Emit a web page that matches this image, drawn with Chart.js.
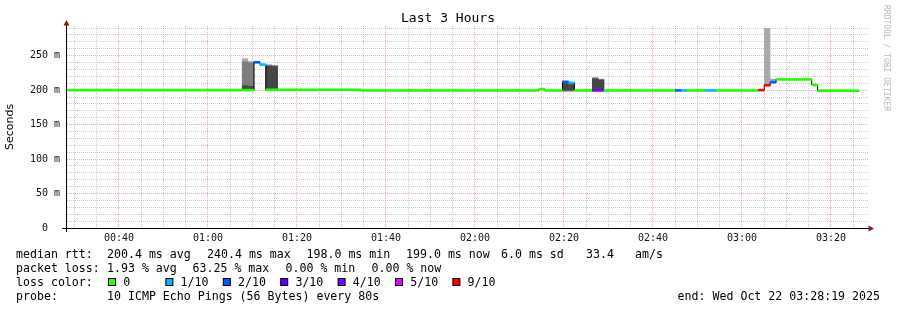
<!DOCTYPE html>
<html><head><meta charset="utf-8">
<script src="https://cdn.jsdelivr.net/npm/chart.js@4/dist/chart.umd.min.js"></script>
<style>html,body{margin:0;padding:0;background:#fff;overflow:hidden}#wrap{width:897px;height:310px;position:relative}</style>
</head><body><div id="wrap"><canvas id="c" width="897" height="310"></canvas></div>
<script>
// ---------------- data ----------------
const stepSeconds = 80;
const firstStepStart = 1660;          // 00:27:40 (seconds after midnight)
const viewStart = 1699;               // 00:28:19
const viewEnd = 12499;                // 03:28:19
const xTickSeconds = [2400, 3600, 4800, 6000, 7200, 8400, 9600, 10800, 12000];
const xTickLabels  = ['00:40','01:00','01:20','01:40','02:00','02:20','02:40','03:00','03:20'];
const yTickValues  = [0, 50, 100, 150, 200, 250];
const yTickLabels  = ['0  ', '50 m', '100 m', '150 m', '200 m', '250 m'];
const yMax = 293;

// median RTT (ms) per 80 s step
const medianRtt = [
  200,200,200,200,200,200,200,200,200,200,
  200,200,200,200,200,200,200,200,200,200,
  200,200,200,200,200,200,200,200,200,200,
  200,200,240.4,237,200.5,200.5,200.5,200.5,200.5,200.5,
  200.5,200.5,200.5,200.5,200.5,200.5,200.5,200.5,200.5,200.5,
  199.5,199.5,199.5,199.5,199.5,199.5,199.5,199.5,199.5,199.5,
  199.5,199.5,199.5,199.5,199.5,199.5,199.5,199.5,199.5,199.5,
  199.5,199.5,199.5,199.5,199.5,199.5,199.5,199.5,199.5,199.5,
  201.5,199.5,199.5,199.5,212,210.5,199.5,199.5,199.5,199.5,
  199.5,199.5,199.5,199.5,199.5,199.5,199.5,199.5,199.5,199.5,
  199.5,199.5,199.5,199.5,199.5,199.5,199.5,199.5,199.5,199.5,
  199.5,199.5,199.5,199.5,199.5,199.5,199.5,200,207,211.5,
  215.5,215.5,215.5,215.5,215.5,215.5,207.5,199.2,199.2,199.2,
  199.2,199.2,199.2,199.2,null,null
];
// lost pings (out of 10) per step
const lossTenths = [
  0,0,0,0,0,0,0,0,0,0,
  0,0,0,0,0,0,0,0,0,0,
  0,0,0,0,0,0,0,0,0,0,
  0,0,2,1,0,0,0,0,0,0,
  0,0,0,0,0,0,0,0,0,0,
  0,0,0,0,0,0,0,0,0,0,
  0,0,0,0,0,0,0,0,0,0,
  0,0,0,0,0,0,0,0,0,0,
  0,0,0,0,2,1,0,0,0,4,
  4,0,0,0,0,0,0,0,0,0,
  0,0,0,2,1,0,0,0,1,1,
  0,0,0,0,0,0,0,6.3,6.3,2,
  0,0,0,0,0,0,0,0,0,0,
  0,0,0,0,null,null
];
// smoke (spread of individual pings) for the steps where it is visible
const smokeSteps   = [30, 31, 34, 35, 84, 85, 89, 90, 118, 119];
const smokeOuterLo = [199, 199, 199, 199, 197.5, 197.5, 199, 199, 206, 211];
const smokeOuterHi = [246, 242, 237.5, 236.5, 212, 211, 218.5, 216.5, 290, 216.5];
const smokeMidLo   = [199, 199, 199, 199, 198.5, 198.5, 199, 199, null, null];
const smokeMidHi   = [241.5, 240, 236.5, 236, 211.5, 210.5, 218, 216, null, null];
const smokeInnerLo = [199, 199, 199, 199, 199.5, 199.5, 199.5, 199.5, null, null];
const smokeInnerHi = [207, 206, 235, 234.5, 211, 210, 217, 215, null, null];

// loss colour legend
const lossKeys   = [0, 1, 2, 3, 4, 5, 9];
const lossLabels = ['0', '1/10', '2/10', '3/10', '4/10', '5/10', '9/10'];
const lossColors = ['#26ff00', '#00b8ff', '#0059ff', '#5e00ff', '#7e00ff', '#dd00ff', '#ff0000'];

// ---------------- helpers ----------------
const MONO = '"DejaVu Sans Mono", monospace';
const stepCenter = i => firstStepStart + stepSeconds * i + stepSeconds / 2;
const lossColor = l => { for (let k = 0; k < lossKeys.length; k++) if (l <= lossKeys[k]) return lossColors[k]; return lossColors[lossColors.length - 1]; };
const HALF = 1.9; // half thickness of median line, ms

const medianData = [], medianColors = [], stepLine = [];
medianRtt.forEach((v, i) => {
  if (v == null) return;
  medianData.push({x: stepCenter(i), y: [v - HALF, v + HALF]});
  medianColors.push(lossColor(lossTenths[i]));
  stepLine.push({x: stepCenter(i), y: v});
});
function smokeLayer(lo, hi) {
  const d = [];
  smokeSteps.forEach((s, k) => { if (lo[k] != null && hi[k] != null) d.push({x: stepCenter(s), y: [lo[k], hi[k]]}); });
  return d;
}
const barCommon = {type: 'bar', grouped: false, barPercentage: 1.06, categoryPercentage: 1, borderWidth: 0};

const decor = {
  id: 'decor',
  afterDraw(chart) {
    const ctx = chart.ctx, a = chart.chartArea;
    ctx.save();
    // axes
    ctx.strokeStyle = '#000'; ctx.lineWidth = 1;
    ctx.beginPath();
    ctx.moveTo(62, a.bottom + 0.5); ctx.lineTo(a.right + 2, a.bottom + 0.5);
    ctx.moveTo(a.left - 0.5, a.bottom + 4); ctx.lineTo(a.left - 0.5, a.top - 2);
    ctx.stroke();
    // arrows
    ctx.fillStyle = '#8b1a1a';
    ctx.beginPath();
    ctx.moveTo(a.left - 0.5, a.top - 6); ctx.lineTo(a.left - 3.5, a.top - 0.5); ctx.lineTo(a.left + 2.5, a.top - 0.5); ctx.closePath(); ctx.fill();
    ctx.beginPath();
    ctx.moveTo(a.right + 6, a.bottom + 0.5); ctx.lineTo(a.right + 0.5, a.bottom - 2.5); ctx.lineTo(a.right + 0.5, a.bottom + 3.5); ctx.closePath(); ctx.fill();
    // title
    ctx.fillStyle = '#000';
    ctx.font = '13px ' + MONO; ctx.textAlign = 'center'; ctx.textBaseline = 'middle';
    ctx.fillText('Last 3 Hours', 448, 19);
    // watermark
    ctx.save();
    ctx.translate(886, 5); ctx.rotate(Math.PI / 2);
    ctx.font = '8px ' + MONO; ctx.fillStyle = '#b8b8b8'; ctx.textAlign = 'left'; ctx.textBaseline = 'middle';
    ctx.fillText('RRDTOOL / TOBI OETIKER', 0, 0);
    ctx.restore();
    // legend text
    ctx.font = '11.6px ' + MONO; ctx.textAlign = 'left'; ctx.textBaseline = 'middle'; ctx.fillStyle = '#000';
    const rows = [
      [255, [[16,'median rtt:'],[107,'200.4 ms avg'],[207,'240.4 ms max'],[306.5,'198.0 ms min'],[406,'199.0 ms now'],[501,'6.0 ms sd'],[586,'33.4'],[635,'am/s']]],
      [268.5, [[16,'packet loss:'],[107,'1.93 % avg'],[192.5,'63.25 % max'],[285.5,'0.00 % min'],[371.5,'0.00 % now']]],
      [282.5, [[16,'loss color:']]],
      [296.5, [[16,'probe:'],[107,'10 ICMP Echo Pings (56 Bytes) every 80s']]]
    ];
    rows.forEach(([y, items]) => items.forEach(([x, t]) => ctx.fillText(t, x, y)));
    lossLabels.forEach((lab, k) => {
      const bx = 108.5 + 57.4 * k;
      ctx.fillStyle = lossColors[k];
      ctx.fillRect(bx, 278.5, 7, 7);
      ctx.strokeStyle = '#000'; ctx.lineWidth = 1;
      ctx.strokeRect(bx, 278.5, 7, 7);
      ctx.fillStyle = '#000';
      ctx.fillText(lab, bx + 14.7, 282.5);
    });
    ctx.textAlign = 'right';
    ctx.fillText('end: Wed Oct 22 03:28:19 2025', 880, 296.5);
    ctx.restore();
  }
};

const GRID_MINOR = 'rgba(150,150,150,0.5)';
const GRID_MAJOR = 'rgba(235,110,110,0.6)';

new Chart(document.getElementById('c'), {
  type: 'bar',
  data: {
    datasets: [
      Object.assign({}, barCommon, {label: 'smoke outer', data: smokeLayer(smokeOuterLo, smokeOuterHi), backgroundColor: '#aaaaaa', order: 10}),
      Object.assign({}, barCommon, {label: 'smoke mid', data: smokeLayer(smokeMidLo, smokeMidHi), backgroundColor: '#7e7e7e', order: 9}),
      Object.assign({}, barCommon, {label: 'smoke inner', data: smokeLayer(smokeInnerLo, smokeInnerHi), backgroundColor: '#464646', order: 8}),
      {type: 'line', label: 'steps', data: stepLine, stepped: 'middle', borderColor: '#000', borderWidth: 1, pointRadius: 0, fill: false, order: 5},
      Object.assign({}, barCommon, {label: 'median rtt', data: medianData, backgroundColor: medianColors, order: 1})
    ]
  },
  options: {
    responsive: false, animation: false, devicePixelRatio: 1,
    layout: {padding: {left: 0, right: 29, top: 26, bottom: 0}},
    plugins: {legend: {display: false}, tooltip: {enabled: false}, title: {display: false}},
    scales: {
      x: {
        type: 'linear', min: viewStart, max: viewEnd, offset: false,
        afterBuildTicks: s => { const t = []; for (let v = 1800; v < viewEnd; v += 300) t.push({value: v}); s.ticks = t; },
        afterFit: s => { s.height = 82; },
        grid: {offset: false, drawTicks: false, lineWidth: 1, color: c => (c.tick && xTickSeconds.includes(c.tick.value)) ? GRID_MAJOR : GRID_MINOR},
        border: {display: false, dash: [1, 1]},
        ticks: {autoSkip: false, maxRotation: 0, minRotation: 0, padding: 4, color: '#111', font: {family: MONO, size: 10},
          callback: v => { const k = xTickSeconds.indexOf(v); return k >= 0 ? xTickLabels[k] : ''; }}
      },
      y: {
        type: 'linear', min: 0, max: yMax,
        afterBuildTicks: s => { const t = []; for (let v = 0; v <= 290; v += 10) t.push({value: v}); s.ticks = t; },
        afterFit: s => { s.width = 67; },
        grid: {drawTicks: false, lineWidth: 1, color: c => (c.tick && c.tick.value % 50 === 0) ? GRID_MAJOR : GRID_MINOR},
        border: {display: false, dash: [1, 1]},
        title: {display: true, text: 'Seconds', color: '#000', font: {family: '"DejaVu Sans", sans-serif', size: 11}, padding: {top: 4, bottom: 0}},
        ticks: {autoSkip: false, padding: 7, color: '#111', font: {family: MONO, size: 10},
          callback: v => { const k = yTickValues.indexOf(v); return k >= 0 ? yTickLabels[k] : ''; }}
      }
    }
  },
  plugins: [decor]
});
</script>
</body></html>
